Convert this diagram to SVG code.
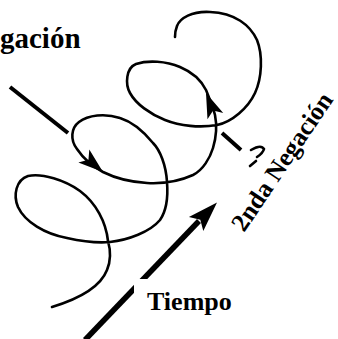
<svg xmlns="http://www.w3.org/2000/svg" width="338" height="339" viewBox="0 0 338 339">
<defs>
<style>
.lbl{font-family:"Liberation Serif","Times New Roman",serif;font-weight:bold;fill:#000}
.sp{fill:none;stroke:#000;stroke-width:2.6;stroke-linecap:round;stroke-linejoin:round}
.ln{fill:none;stroke:#000;stroke-width:4}
.thick{fill:none;stroke:#000;stroke-width:5.5}
.head{fill:#000;stroke:none}
</style>
<path id="ah" d="M0,0 L-25,8.5 L-19,0 L-25,-8.5 Z"/>
</defs>
<rect width="338" height="339" fill="#fff"/>
<g id="connectors">
<path class="sp" d="M52,307 C75,300 100,288 107,270 C112,258 110,248 108,241 C106,222 96,203 80,191 C65,180 42,173 28,176 C16,180 13,195 18,207 C25,222 45,234 67,238 C85,242 100,243 110,242 C128,240 150,232 160,220 C167,210 168,195 167,182 C166,165 160,150 153,143 C144,132 133,122 120,118 C105,113 88,115 79,122 C71,128 70,140 77,149 C83,158 92,166 103,172 C115,178 130,182 147,183 C165,184 182,180 193,175 C203,170 210,158 213,148 C216,138 217,125 215,115 C213,107 210,100 206,90 C201,80 192,72 180,67 C166,61 148,60 136,64 C126,68 125,84 130,93 C136,104 150,114 165,120 C180,126 200,128 217,125 C232,122 248,108 255,93 C262,78 263,55 257,40 C250,25 235,13 210,12 C192,11 180,18 177,26 C175,31 175,35 175,37"/>
<use href="#ah" class="head" transform="translate(103,172) rotate(40)"/>
<use href="#ah" class="head" transform="translate(206,93) rotate(-112)"/>
<line class="ln" x1="10" y1="87" x2="68" y2="133"/>
<line class="ln" x1="222" y1="133" x2="241" y2="150"/>
<path class="sp" d="M251,150 Q261,144 264,149 Q263,153 257,157"/>
<path class="sp" d="M250,166 L256,161"/>
<line class="thick" x1="85" y1="340" x2="199" y2="221"/>
<polygon class="head" points="217,202.5 203.3,231 200.3,219.7 188.9,217"/>
</g>
<g id="label-negacion1">
<text class="lbl" x="0" y="48" font-size="29">gación</text>
</g>
<g id="label-tiempo">
<rect x="134" y="279" width="110" height="44" fill="#fff"/>
<text class="lbl" x="147" y="310" font-size="26">Tiempo</text>
</g>
<g id="label-negacion2">
<text class="lbl" font-size="25.5" transform="translate(244,233) rotate(-56)">2nda Negación</text>
</g>
</svg>
